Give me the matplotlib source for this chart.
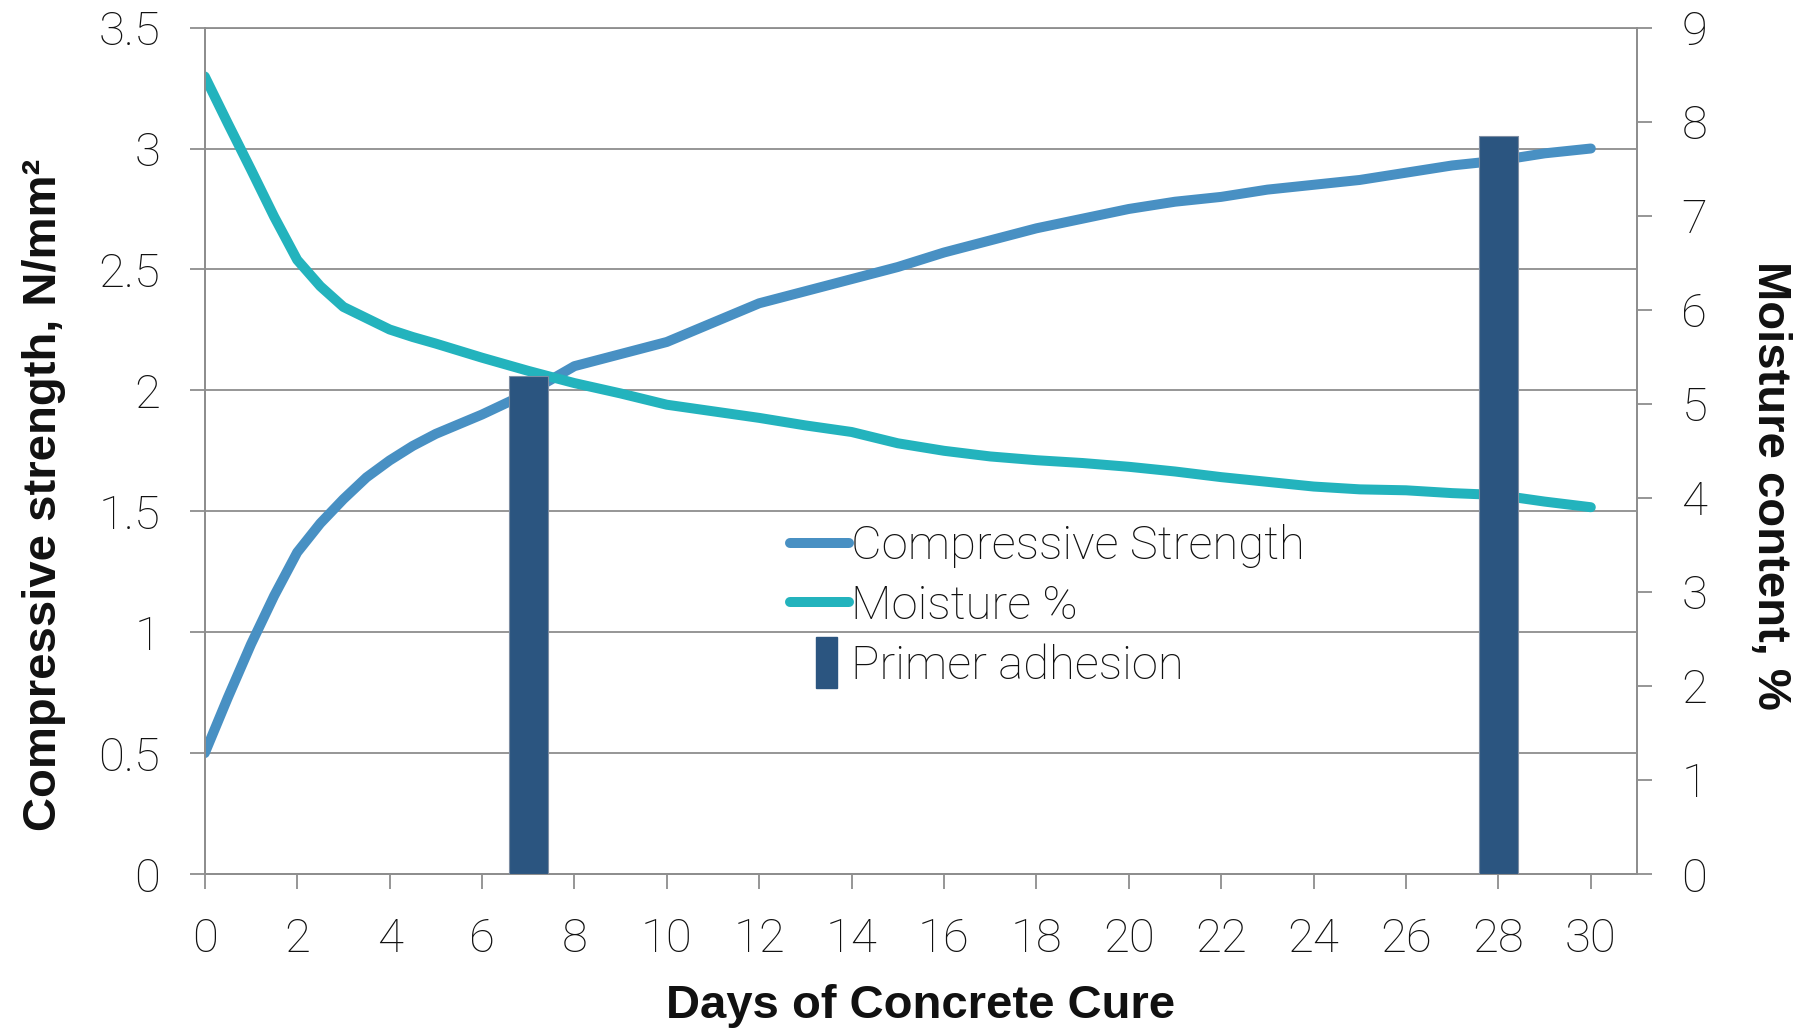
import matplotlib
matplotlib.use("Agg")
import matplotlib.pyplot as plt
from matplotlib.patches import Rectangle
from matplotlib.legend_handler import HandlerPatch
from matplotlib.lines import Line2D

# ---- data ----
days = [0, 0.5, 1, 1.5, 2, 2.5, 3, 3.5, 4, 4.5, 5, 6, 7, 8, 9,
        10, 11, 12, 13, 14, 15, 16, 17, 18, 19,
        20, 21, 22, 23, 24, 25, 26, 27, 28, 29, 30]
strength = [0.50, 0.73, 0.95, 1.15, 1.33, 1.45, 1.55, 1.64, 1.71, 1.77, 1.82,
            1.90, 1.99, 2.10, 2.15,
            2.20, 2.28, 2.36, 2.41, 2.46, 2.51, 2.57, 2.62, 2.67, 2.71,
            2.75, 2.78, 2.80, 2.83, 2.85, 2.87, 2.90, 2.93, 2.95, 2.98, 3.00]
moisture = [8.48, 7.98, 7.49, 6.99, 6.53, 6.25, 6.03, 5.91, 5.79, 5.71, 5.64,
            5.49, 5.35, 5.22, 5.11,
            4.99, 4.92, 4.85, 4.77, 4.70, 4.58, 4.50, 4.44, 4.40, 4.37,
            4.33, 4.28, 4.22, 4.17, 4.12, 4.09, 4.08, 4.05, 4.03, 3.96, 3.90]
primer_days = [7, 28]
primer_adhesion = [2.06, 3.05]

x_ticks = list(range(0, 31, 2))
left_ticks = [0, 0.5, 1, 1.5, 2, 2.5, 3, 3.5]
left_tick_labels = ["0", "0.5", "1", "1.5", "2", "2.5", "3", "3.5"]
right_ticks = list(range(10))

series_names = ["Compressive Strength", "Moisture %", "Primer adhesion"]

# ---- style ----
BLUE = "#4890C3"
TEAL = "#23B3BD"
NAVY = "#2B5580"
GRAY = "#8E8E8E"
TXT = "#111111"
TICK_SIZE = 34

plt.rcParams["font.family"] = ["Roboto", "DejaVu Sans"]
plt.rcParams["font.weight"] = "light"
LABEL_FONT = dict(family=["Liberation Sans", "DejaVu Sans"], weight="bold", size=34)

W, H = 1804, 1029
fig = plt.figure(figsize=(W / 100, H / 100), dpi=100)
x0, x1, y0, y1 = 204.8, 1637.0, 874.0, 27.6
rect = [x0 / W, 1 - y0 / H, (x1 - x0) / W, (y0 - y1) / H]

ax = fig.add_axes(rect)
ax2 = ax.twinx()
ax3 = ax.twinx()

LW = 7.2
ax.plot(days, strength, color=BLUE, lw=LW, solid_capstyle="round",
        solid_joinstyle="round", zorder=3)
ax2.plot(days, moisture, color=TEAL, lw=LW, solid_capstyle="round",
         solid_joinstyle="round", zorder=3)
ax3.bar(primer_days, primer_adhesion, width=0.84, color=NAVY,
        edgecolor="#7D8DA3", linewidth=0.8, zorder=3)

ax.set_xlim(0, 31)
ax.set_ylim(0, 3.5)
ax2.set_ylim(0, 9)
ax3.set_ylim(0, 3.5)

ax.set_xticks(x_ticks)
ax.set_yticks(left_ticks, left_tick_labels)
ax2.set_yticks(right_ticks)
ax3.set_yticks([])

ax.yaxis.grid(True, color=GRAY, lw=1.3)
ax.set_axisbelow(True)

for a in (ax, ax2, ax3):
    for s in a.spines.values():
        s.set_color(GRAY)
        s.set_linewidth(1.3)
ax2.spines["top"].set_visible(False)
ax3.spines["top"].set_visible(False)
ax3.spines["right"].set_visible(False)

ax.tick_params(axis="x", direction="out", length=11, width=1.3, color=GRAY,
               pad=20, labelsize=TICK_SIZE, labelcolor=TXT)
ax.tick_params(axis="y", direction="out", length=11, width=1.3, color=GRAY,
               pad=21, labelsize=TICK_SIZE, labelcolor=TXT)
ax2.tick_params(axis="y", direction="out", length=11, width=1.3, color=GRAY,
                pad=21, labelsize=TICK_SIZE, labelcolor=TXT)

# axis titles
fig.text(921 / W, 1 - 1018 / H, "Days of Concrete Cure", ha="center",
         va="baseline", color=TXT, **LABEL_FONT)
fig.text(44 / W, 1 - 495 / H, "Compressive strength, N/mm²", rotation=90,
         ha="center", va="center", color=TXT, **LABEL_FONT)
fig.text(1770 / W, 1 - 485 / H, "Moisture content, %", rotation=-90,
         ha="center", va="center", color=TXT, **LABEL_FONT)


# legend with a narrow upright bar swatch
def bar_swatch(legend, orig_handle, xdescent, ydescent, width, height, fontsize):
    return Rectangle((-xdescent + 0.45 * width, -ydescent - 0.27 * height),
                     0.36 * width, 1.54 * height)


h_strength = Line2D([], [], color=BLUE, lw=LW, solid_capstyle="round")
h_moist = Line2D([], [], color=TEAL, lw=LW, solid_capstyle="round")
h_bar = Rectangle((0, 0), 1, 1, color=NAVY)

leg = ax3.legend([h_strength, h_moist, h_bar], series_names,
                 loc="center left", bbox_to_anchor=(766 / W, 1 - 606 / H),
                 bbox_transform=fig.transFigure, frameon=False, borderpad=0,
                 handlelength=1.25, handletextpad=0.05, labelspacing=0.33,
                 prop=dict(family=["Roboto", "DejaVu Sans"], weight="light",
                           size=TICK_SIZE),
                 handler_map={h_bar: HandlerPatch(patch_func=bar_swatch)})
for t in leg.get_texts():
    t.set_color(TXT)

fig.savefig("out.png", dpi=100)
